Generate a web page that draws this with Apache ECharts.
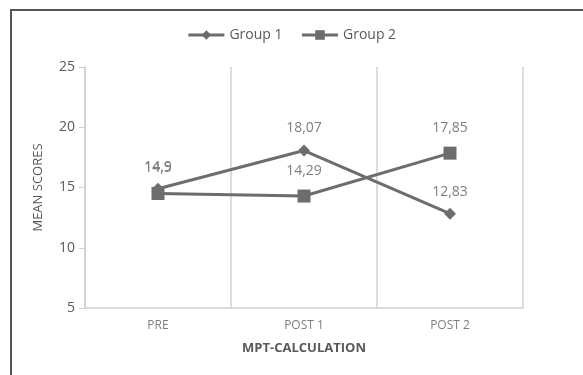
<!DOCTYPE html>
<html><head><meta charset="utf-8">
<script src="https://cdn.jsdelivr.net/npm/echarts@6/dist/echarts.min.js"></script>
<style>html,body{margin:0;padding:0;background:#fff}#c{width:583px;height:375px}</style>
</head><body><div id="c"></div>
<script>
var categories = ['PRE', 'POST 1', 'POST 2'];
var group1 = [14.9, 18.07, 12.83];
var group2 = [14.5, 14.29, 17.85];
var yTicks = [5, 10, 15, 20, 25];

var chart = echarts.init(document.getElementById('c'));
var fontFam = '"Open Sans", "Liberation Sans", sans-serif';
function fmt(p){ return String(p.value).replace('.', ','); }
chart.setOption({
  animation: false,
  textStyle: { fontFamily: fontFam },
  graphic: [
    { type: 'line', shape: { x1: 10, y1: 10, x2: 583, y2: 10 }, style: { stroke: '#555', lineWidth: 2 } },
    { type: 'line', shape: { x1: 11, y1: 10, x2: 11, y2: 375 }, style: { stroke: '#555', lineWidth: 2 } }
  ],
  legend: {
    top: 23, left: 'center', itemWidth: 36, itemHeight: 12, itemGap: 18,
    lineStyle: { width: 3 },
    textStyle: { color: '#595959', fontSize: 14, fontFamily: fontFam },
    data: ['Group 1', 'Group 2']
  },
  grid: { left: 85, right: 60, top: 67, bottom: 67 },
  xAxis: {
    type: 'category', data: categories, boundaryGap: true,
    name: 'MPT-CALCULATION', nameLocation: 'middle', nameGap: 34,
    nameTextStyle: { color: '#595959', fontSize: 13, fontWeight: 'bold', fontFamily: fontFam },
    axisLine: { lineStyle: { color: '#d0d0d0', width: 1.5 } },
    axisTick: { show: false },
    axisLabel: { color: '#7f7f7f', fontSize: 12, margin: 12, fontFamily: fontFam },
    splitLine: { show: true, showMinLine: true, showMaxLine: true, lineStyle: { color: '#d0d0d0', width: 1.5 } }
  },
  yAxis: {
    type: 'value', min: 5, max: 25, interval: 5,
    name: 'MEAN SCORES', nameLocation: 'middle', nameGap: 40, nameRotate: 90,
    nameTextStyle: { color: '#595959', fontSize: 13, fontFamily: fontFam },
    axisLine: { show: true, lineStyle: { color: '#d0d0d0', width: 1.5 } },
    axisTick: { show: true, length: 6, lineStyle: { color: '#d0d0d0' } },
    axisLabel: { color: '#595959', fontSize: 14, margin: 10, fontFamily: fontFam,
      formatter: function(v){ return yTicks.indexOf(v) >= 0 ? String(v) : ''; } },
    splitLine: { show: false }
  },
  series: [
    { name: 'Group 1', type: 'line', data: group1, symbol: 'diamond', symbolSize: 12,
      lineStyle: { color: '#6d6d6d', width: 3 }, itemStyle: { color: '#6d6d6d' },
      label: { show: true, position: 'top', distance: 9, color: '#7f7f7f', fontSize: 14, formatter: fmt } },
    { name: 'Group 2', type: 'line', data: group2, symbol: 'rect', symbolSize: 13,
      lineStyle: { color: '#6d6d6d', width: 3 }, itemStyle: { color: '#6d6d6d' },
      label: { show: true, position: 'top', distance: 12, color: '#7f7f7f', fontSize: 14, formatter: fmt } }
  ]
});
</script></body></html>
